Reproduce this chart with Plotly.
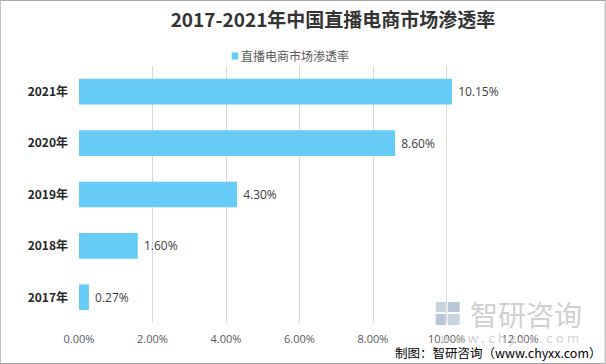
import plotly.graph_objects as go

categories = ["2017年", "2018年", "2019年", "2020年", "2021年"]
values = [0.0027, 0.016, 0.043, 0.086, 0.1015]
series_name = "直播电商市场渗透率"
title_text = "2017-2021年中国直播电商市场渗透率"
source_text = "制图：智研咨询（www.chyxx.com）"
tick_vals = [0, 0.02, 0.04, 0.06, 0.08, 0.10, 0.12]

W, H = 606, 364
L, R, T, B = 79.3, 85.7, 66, 41
pw, ph = W - L - R, H - T - B
BAR_COLOR = "#66CCF5"

def px(x):
    return (x - L) / pw

def py(y):
    return (H - B - y) / ph

fig = go.Figure()
fig.add_trace(go.Bar(
    y=categories, x=values, orientation="h", name=series_name,
    marker=dict(color=BAR_COLOR, line=dict(width=0)),
    texttemplate="&nbsp;%{x:.2%}", textposition="outside",
    textfont=dict(family="Open Sans, Noto Sans CJK SC", size=12, color="#404040"),
    cliponaxis=False, showlegend=False,
))

fig.update_layout(
    width=W, height=H,
    margin=dict(l=L, r=R, t=T, b=B, pad=0),
    paper_bgcolor="white", plot_bgcolor="white",
    bargap=0.5,
    showlegend=False,
    title=dict(text="<b>" + title_text + "</b>", x=333 / W, xanchor="center",
               y=1 - 20 / H, yanchor="middle", yref="container",
               font=dict(family="Noto Sans CJK SC", size=19, color="#333333")),
    xaxis=dict(range=[0, 0.12], tickvals=tick_vals, tickformat=".2%",
               showgrid=True, gridcolor="#d9d9d9", gridwidth=1, zeroline=False,
               showline=False, ticks="", ticklabelstandoff=8,
               tickfont=dict(family="Open Sans, Noto Sans CJK SC", size=11, color="#595959")),
    yaxis=dict(showgrid=False, zeroline=False, showline=False, ticks="",
               ticklabelstandoff=10,
               tickfont=dict(family="Noto Sans CJK SC", size=12, color="#262626")),
    font=dict(family="Noto Sans CJK SC"),
)
fig.update_yaxes(tickprefix="<b>", ticksuffix="</b>")

# legend (series key)
fig.add_shape(type="rect", xref="paper", yref="paper", x0=px(232), x1=px(238.5), y0=py(52.5), y1=py(59.5),
              line=dict(width=0), fillcolor=BAR_COLOR)
fig.add_annotation(text=series_name, xref="paper", yref="paper", x=px(240), y=py(56),
                   xanchor="left", yanchor="middle", showarrow=False, borderpad=0,
                   font=dict(family="Noto Sans CJK SC", size=12, color="#595959"))

# watermark
fig.add_annotation(text="智研咨询", xref="paper", yref="paper", x=px(526), y=py(314),
                   xanchor="center", yanchor="middle", showarrow=False,
                   font=dict(family="Noto Sans CJK SC", size=28, color="#d0d0d0"))
fig.add_annotation(text="w w w . c h y x x . c o m", xref="paper", yref="paper", x=px(510), y=py(338),
                   xanchor="center", yanchor="middle", showarrow=False,
                   font=dict(family="Open Sans", size=13, color="#d0d0d0"))
for (x0, y0, x1, y1, c) in [(436, 302, 446, 312, "#c9d3e0"), (448, 302, 460, 312, "#b8c6d8"),
                             (436, 314, 446, 325, "#b8c6d8"), (448, 314, 460, 325, "#c9d3e0")]:
    fig.add_shape(type="rect", xref="paper", yref="paper", x0=px(x0), x1=px(x1), y0=py(y0), y1=py(y1),
                  line=dict(width=0), fillcolor=c, layer="below")

# source
fig.add_annotation(text=source_text, xref="paper", yref="paper", x=px(603), y=py(352),
                   xanchor="right", yanchor="middle", showarrow=False, borderpad=0,
                   font=dict(family="Noto Sans CJK SC", size=12.5, color="#000000"))

# border
fig.add_shape(type="rect", xref="paper", yref="paper", x0=px(0.5), x1=px(605.5), y0=py(0.5), y1=py(363.5),
              line=dict(color="#a6a6a6", width=1), fillcolor="rgba(0,0,0,0)")

fig.write_html("out.html", config={"displayModeBar": False},
               post_script="document.body.style.margin='0';document.body.style.overflow='hidden';")
